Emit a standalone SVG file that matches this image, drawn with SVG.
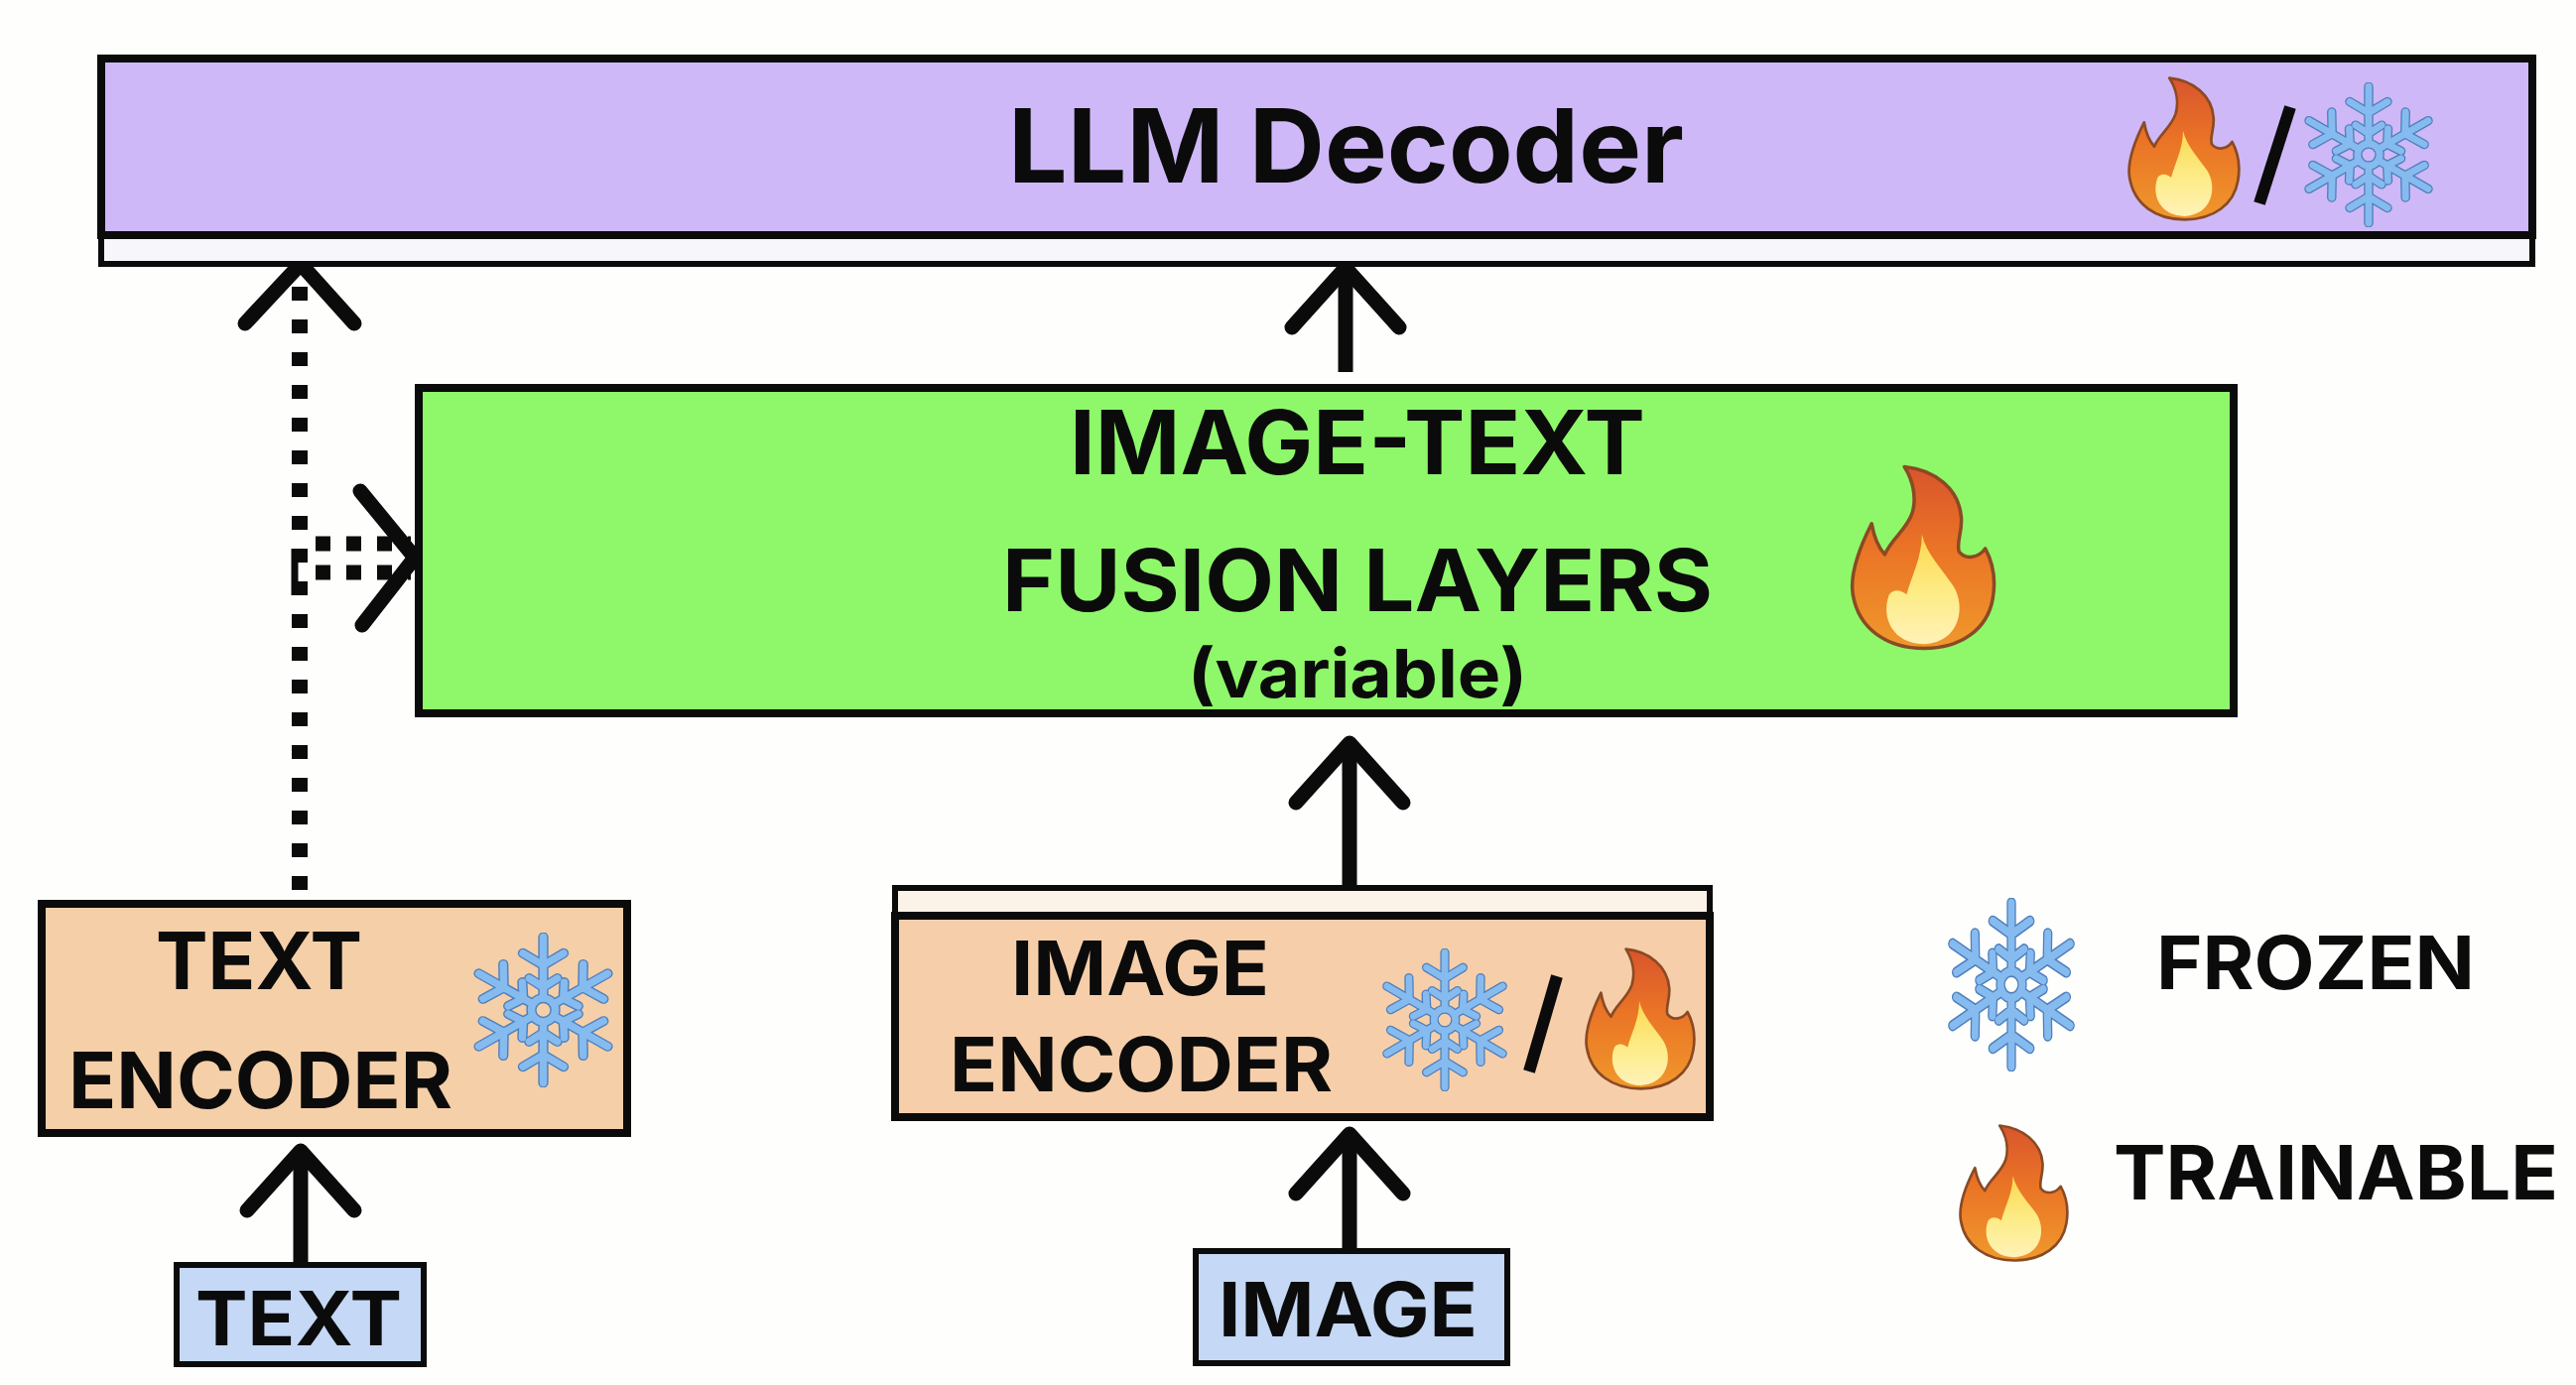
<svg xmlns="http://www.w3.org/2000/svg" width="2596" height="1396" viewBox="0 0 2596 1396">
<style>
.box{stroke:#0b0b0b;stroke-width:8}
.thin{stroke:#0b0b0b;stroke-width:6}
.t{font-family:Inter,"Liberation Sans",sans-serif;font-weight:700;fill:#0b0b0b}
.conn{fill:none;stroke:#0b0b0b;stroke-width:15}
.dot{fill:none;stroke:#0b0b0b;stroke-width:16;stroke-dasharray:14 19}
.hdot{fill:none;stroke:#0b0b0b;stroke-width:15;stroke-dasharray:15 16}
.head{fill:none;stroke:#0b0b0b;stroke-width:15;stroke-linecap:round;stroke-linejoin:round}
.slash{stroke:#0b0b0b;stroke-width:12}
</style>
<defs>
<linearGradient id="fg" x1="0" y1="0" x2="0" y2="1">
<stop offset="0" stop-color="#d9552c"/><stop offset="0.45" stop-color="#ea7426"/><stop offset="1" stop-color="#f0982c"/>
</linearGradient>
<linearGradient id="fi" x1="0" y1="0" x2="0" y2="1">
<stop offset="0" stop-color="#fcd850"/><stop offset="0.55" stop-color="#fdec88"/><stop offset="1" stop-color="#fff2b8"/>
</linearGradient>
<marker id="open" markerUnits="userSpaceOnUse" viewBox="-80 -70 100 140" refX="0" refY="0" markerWidth="100" markerHeight="140" orient="auto">
<path class="head" d="M-60,-54 L0,0 L-60,54"/>
</marker>
<symbol id="flame" viewBox="70 80 343 438" preserveAspectRatio="none">
<path fill="url(#fg)" stroke="#8a4a24" stroke-width="8" stroke-linejoin="round" d="M200,88 C270,95 325,140 330,205 C333,240 318,265 325,285 C340,305 370,300 385,278 C402,310 410,350 402,395 C390,465 330,510 245,510 C160,510 95,465 82,385 C74,335 100,270 125,220 C130,250 140,275 155,292 C170,255 205,235 218,195 C228,160 220,120 200,88 Z"/>
<path fill="url(#fi)" d="M240,245 C250,290 285,325 312,365 C340,410 330,495 245,500 C175,500 145,440 165,385 C175,370 195,375 205,385 C215,345 240,300 240,245 Z"/>
</symbol>
<g id="arm">
<path d="M0,-35 V-212 M-58,-165 L0,-130 L58,-165 M-40,-92 L0,-66 L40,-92"/>
</g>
<g id="flakeShape" fill="none" stroke-linecap="round" stroke-linejoin="round">
<use href="#arm"/><use href="#arm" transform="rotate(60)"/><use href="#arm" transform="rotate(120)"/><use href="#arm" transform="rotate(180)"/><use href="#arm" transform="rotate(240)"/><use href="#arm" transform="rotate(300)"/>
<circle r="34"/>
</g>
<symbol id="snow" viewBox="-205 -225 410 450" preserveAspectRatio="none">
<use href="#flakeShape" stroke="#4f7fbb" stroke-width="29"/>
<use href="#flakeShape" stroke="#86bbf0" stroke-width="21"/>
</symbol>
</defs>
<rect width="2596" height="1396" fill="#fefefd"/>

<g id="connectors">
<path class="dot" d="M302,897 V289"/>
<path class="head" d="M247,326 L303,266 L357,326"/>
<path class="hdot" d="M318,548 H414"/>
<path class="hdot" d="M318,577 H414"/>
<path class="conn" d="M297,553 V600" style="stroke-width:7"/>
<path class="head" d="M363,495 L418,562 L365,630"/>
<path class="conn" d="M1356,375 V270" marker-end="url(#open)"/>
<path class="conn" d="M1360,895 V749" marker-end="url(#open)"/>
<path class="conn" d="M1360,1260 V1143" marker-end="url(#open)"/>
<path class="conn" d="M303,1274 V1160" marker-end="url(#open)"/>
</g>

<g id="llm-decoder">
<rect class="thin" x="102" y="59" width="2450" height="207" fill="#f7f7fb"/>
<rect class="box" x="102" y="59" width="2450" height="178" fill="#cfb8f7"/>
<text class="t" x="1016" y="184" font-size="103" textLength="681" lengthAdjust="spacingAndGlyphs">LLM Decoder</text>
<use href="#flame" x="2142" y="76" width="117" height="148"/>
<line class="slash" x1="2308" y1="108" x2="2277" y2="205"/>
<use href="#snow" x="2320" y="83" width="134" height="146"/>
</g>

<g id="fusion-layers">
<rect class="box" x="422" y="391" width="1829" height="328" fill="#8ef86a"/>
<text class="t" x="1078" y="478" font-size="89" textLength="580" lengthAdjust="spacingAndGlyphs">IMAGE-TEXT</text>
<text class="t" x="1010" y="616" font-size="87" textLength="716" lengthAdjust="spacingAndGlyphs">FUSION LAYERS</text>
<text class="t" x="1197" y="703" font-size="68" textLength="342" lengthAdjust="spacingAndGlyphs">(variable)</text>
<use href="#flame" x="1862" y="467" width="151" height="190"/>
</g>

<g id="text-encoder">
<rect class="box" x="42" y="911" width="590" height="231" fill="#f5cfa8"/>
<text class="t" x="157" y="997" font-size="80" textLength="208" lengthAdjust="spacingAndGlyphs">TEXT</text>
<text class="t" x="69" y="1117" font-size="78" textLength="387" lengthAdjust="spacingAndGlyphs">ENCODER</text>
<use href="#snow" x="475" y="940" width="145" height="156"/>
</g>

<g id="image-encoder">
<rect class="thin" x="902" y="895" width="821" height="231" fill="#fbf3e8"/>
<rect class="box" x="902" y="923" width="821" height="203" fill="#f6cfaa"/>
<text class="t" x="1019" y="1003" font-size="76" textLength="260" lengthAdjust="spacingAndGlyphs">IMAGE</text>
<text class="t" x="957" y="1100" font-size="76" textLength="386" lengthAdjust="spacingAndGlyphs">ENCODER</text>
<use href="#snow" x="1391" y="956" width="130" height="144"/>
<line class="slash" x1="1569" y1="984" x2="1541" y2="1080"/>
<use href="#flame" x="1595" y="954" width="115" height="146"/>
</g>

<g id="text-input">
<rect class="thin" x="178" y="1275" width="249" height="100" fill="#c5d8f5"/>
<text class="t" x="197" y="1356" font-size="76" textLength="208" lengthAdjust="spacingAndGlyphs">TEXT</text>
</g>

<g id="image-input">
<rect class="thin" x="1205" y="1261" width="314" height="113" fill="#c5d8f5"/>
<text class="t" x="1228" y="1347" font-size="76" textLength="261" lengthAdjust="spacingAndGlyphs">IMAGE</text>
</g>

<g id="legend-frozen">
<use href="#snow" x="1961" y="905" width="132" height="175"/>
<text class="t" x="2173" y="997" font-size="74" textLength="321" lengthAdjust="spacingAndGlyphs">FROZEN</text>
</g>

<g id="legend-trainable">
<use href="#flame" x="1972" y="1132" width="114" height="141"/>
<text class="t" x="2130" y="1209" font-size="76" textLength="448" lengthAdjust="spacingAndGlyphs">TRAINABLE</text>
</g>
</svg>
